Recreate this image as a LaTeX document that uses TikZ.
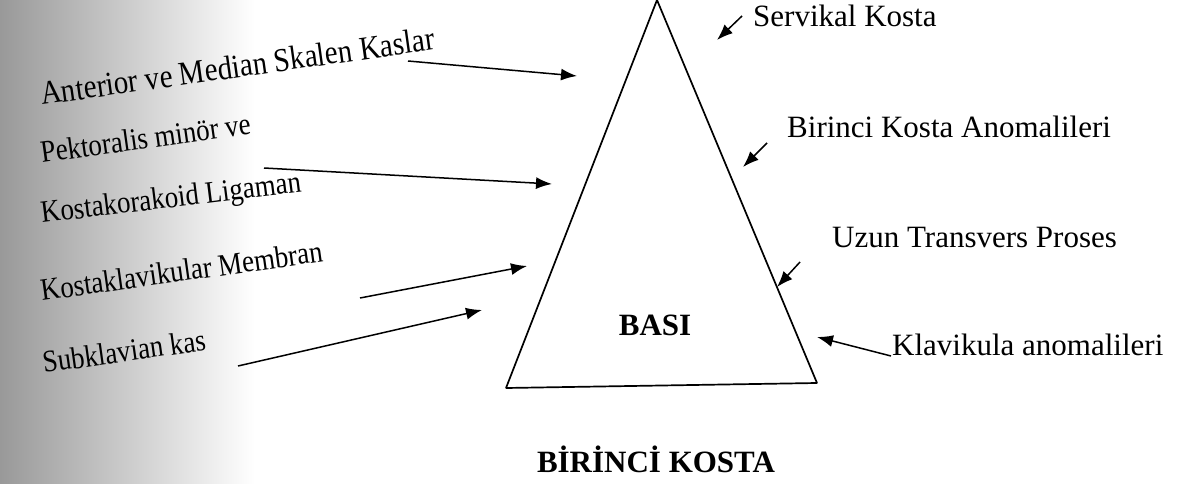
\documentclass[tikz,border=0pt]{standalone}
\usepackage{fontspec}
\setmainfont{Liberation Serif}
\usetikzlibrary{arrows.meta}
\begin{document}
\begin{tikzpicture}[x=1pt,y=-1pt,
  lbl/.style={inner sep=0pt,anchor=base west,font=\fontsize{31}{36}\selectfont},
  leftlbl/.style={lbl,rotate=8,yscale=1.15,transform shape,font=\fontsize{27}{32}\selectfont},
  ptr/.style={-{Latex[length=16pt,width=12pt]},line width=1.5pt}]
  \useasboundingbox (0,0) rectangle (1180,484);
  \shade[left color=black!40,right color=white] (0,0) rectangle (255,484);
  % triangle
  \coordinate (apex) at (657,0);
  \coordinate (bl) at (506,388);
  \coordinate (br) at (817,383);
  \draw[line width=1.7pt,line join=bevel] (apex) -- (bl) -- (br) -- cycle;
  \node[lbl,anchor=base,font=\fontsize{31}{36}\selectfont\bfseries] (basi) at (655,335) {BASI};
  \node[lbl,anchor=base,font=\fontsize{31}{36}\selectfont\bfseries] (title) at (656,472) {BİRİNCİ KOSTA};
  % left side
  \node[leftlbl,font=\fontsize{29}{34}\selectfont] (skalen) at (42,105) {Anterior ve Median Skalen Kaslar};
  \node[leftlbl] (pekt) at (42,163) {Pektoralis minör ve};
  \node[leftlbl,rotate=-1] (kostak) at (42,223) {Kostakorakoid Ligaman};
  \node[leftlbl] (membran) at (42,301) {Kostaklavikular Membran};
  \node[leftlbl] (subkl) at (44,373) {Subklavian kas};
  \coordinate (skalen-a) at (408,61);  \coordinate (skalen-b) at (577,76);
  \coordinate (pekt-a) at (264,168);   \coordinate (pekt-b) at (552,184);
  \coordinate (membran-a) at (360,298);\coordinate (membran-b) at (527,266);
  \coordinate (subkl-a) at (238,366);  \coordinate (subkl-b) at (482,310);
  \draw[ptr] (skalen-a) -- (skalen-b);
  \draw[ptr] (pekt-a) -- (pekt-b);
  \draw[ptr] (membran-a) -- (membran-b);
  \draw[ptr] (subkl-a) -- (subkl-b);
  % right side
  \node[lbl] (servikal) at (753,27) {Servikal Kosta};
  \node[lbl] (anomali) at (787,137) {Birinci Kosta Anomalileri};
  \node[lbl] (proses) at (832,247) {Uzun Transvers Proses};
  \node[lbl] (klavikula) at (892,355) {Klavikula anomalileri};
  \coordinate (servikal-a) at (742,16);  \coordinate (servikal-b) at (717,40);
  \coordinate (anomali-a) at (767,143);  \coordinate (anomali-b) at (743,167);
  \coordinate (proses-a) at (800,262);   \coordinate (proses-b) at (777,287);
  \coordinate (klavikula-a) at (891,356);\coordinate (klavikula-b) at (817,337);
  \draw[ptr] (servikal-a) -- (servikal-b);
  \draw[ptr] (anomali-a) -- (anomali-b);
  \draw[ptr] (proses-a) -- (proses-b);
  \draw[ptr] (klavikula-a) -- (klavikula-b);
\end{tikzpicture}
\end{document}
